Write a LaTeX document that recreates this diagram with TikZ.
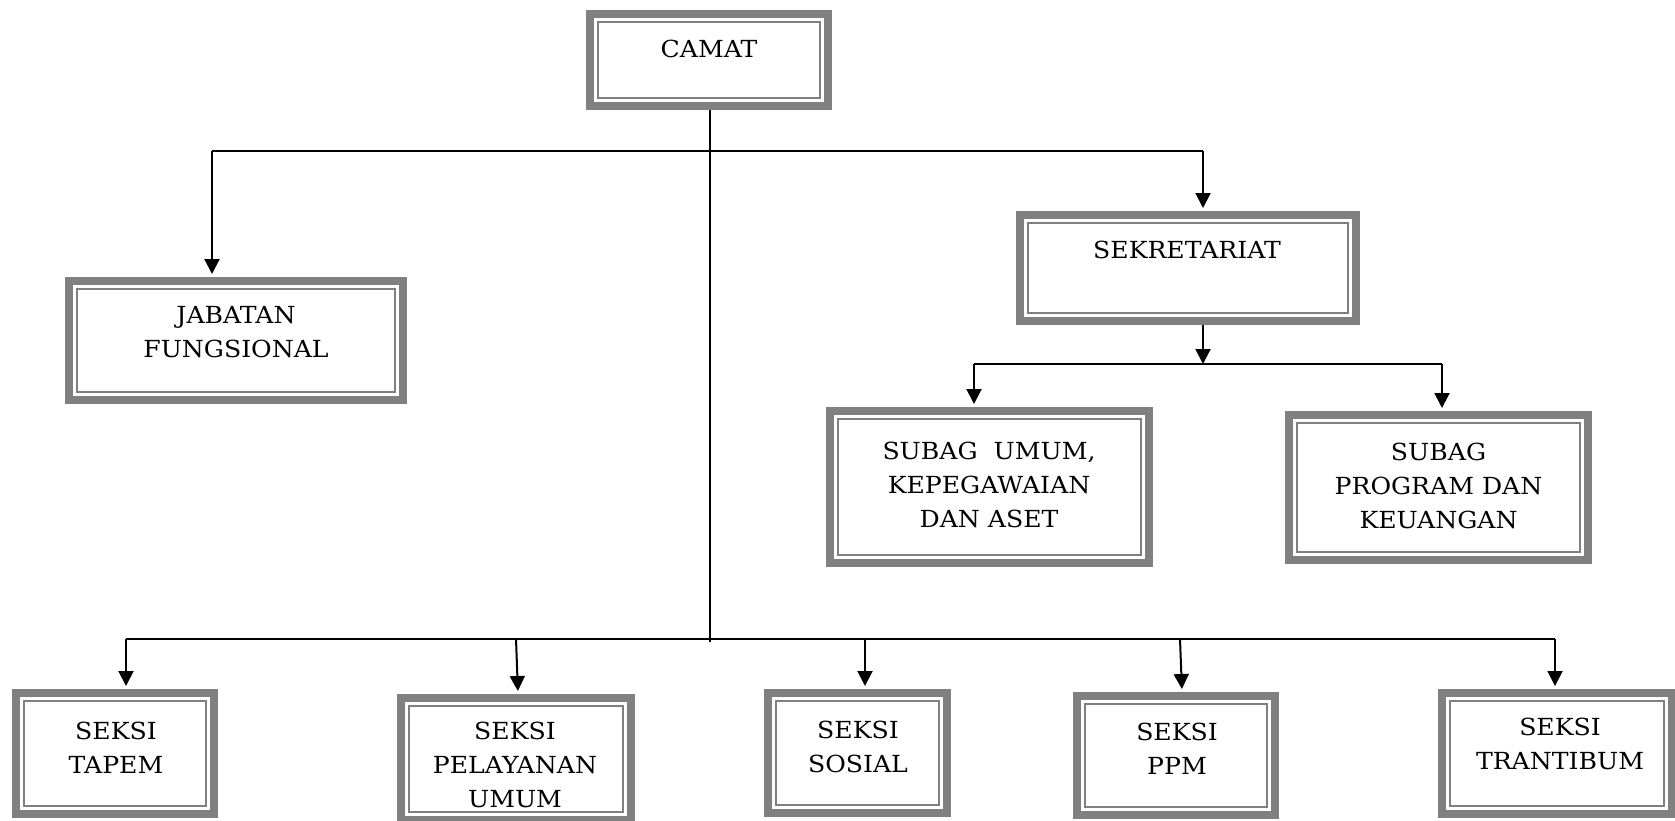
\documentclass[tikz,border=0pt]{standalone}
\usepackage{fontspec}
\setmainfont{DejaVu Serif}[FakeStretch=1.07]
\usetikzlibrary{arrows.meta}
\definecolor{boxgray}{RGB}{128,128,128}
\begin{document}
\begin{tikzpicture}[x=1pt,y=-1pt,
  box/.style={draw=boxgray, line width=8pt, fill=white, inner sep=0pt,
    path picture={\draw[boxgray, line width=2pt]
      ([xshift=8pt,yshift=-8pt]path picture bounding box.north west) rectangle
      ([xshift=-8pt,yshift=8pt]path picture bounding box.south east);}},
  lbl/.style={font=\fontsize{23.5}{34}\selectfont, align=center, inner sep=0pt},
  conn/.style={line width=2pt, black},
  arr/.style={conn, -{Triangle[width=15pt,length=15pt]}, shorten >=3pt}]
\useasboundingbox (0,0) rectangle (1675,820);
% boxes
\node[box, minimum width=238pt, minimum height=92pt] (camat) at (709,60) {};
\node[box, minimum width=334pt, minimum height=119pt] (jab) at (236,340.5) {};
\node[box, minimum width=336pt, minimum height=106pt] (sek) at (1188,268) {};
\node[box, minimum width=319pt, minimum height=152pt] (sum) at (989.5,487) {};
\node[box, minimum width=299pt, minimum height=145pt] (spk) at (1438.5,487.5) {};
\node[box, minimum width=198pt, minimum height=121pt] (tap) at (115,753.5) {};
\node[box, minimum width=230pt, minimum height=122pt] (pel) at (516,759) {};
\node[box, minimum width=179pt, minimum height=120pt] (sos) at (857.5,753) {};
\node[box, minimum width=198pt, minimum height=119pt] (ppm) at (1176,755.5) {};
\node[box, minimum width=230pt, minimum height=121pt] (tra) at (1557,753.5) {};
% labels
\node[lbl] (tcamat) at (709,49) {CAMAT};
\node[lbl] (tjab) at (236,332) {JABATAN\\FUNGSIONAL};
\node[lbl] (tsek) at (1187,250) {SEKRETARIAT};
\node[lbl] (tsum) at (989,485) {SUBAG\ \ UMUM,\\KEPEGAWAIAN\\DAN ASET};
\node[lbl] (tspk) at (1438.5,486) {SUBAG\\PROGRAM DAN\\KEUANGAN};
\node[lbl] (ttap) at (116,748) {SEKSI\\TAPEM};
\node[lbl] (tpel) at (515,765) {SEKSI\\PELAYANAN\\UMUM};
\node[lbl] (tsos) at (858,747) {SEKSI\\SOSIAL};
\node[lbl] (tppm) at (1177,749) {SEKSI\\PPM};
\node[lbl] (ttra) at (1560,744) {SEKSI\\TRANTIBUM};
% connector points
\coordinate (cbot) at (710,642);
\coordinate (tl) at (212,151);
\coordinate (tr) at (1203,151);
\coordinate (sekb) at (1203,325);
\coordinate (mid) at (1203,364);
\coordinate (ml) at (974,364);
\coordinate (mr) at (1442,364);
\coordinate (bl) at (126,639);
\coordinate (b2) at (516,639);
\coordinate (b3) at (865,639);
\coordinate (b4) at (1180,639);
\coordinate (br) at (1555,639);
% connectors
\draw[conn] (camat.south -| cbot) -- (cbot);
\draw[conn] (tl) -- (tr);
\draw[arr] (tl) -- (tl |- jab.north);
\draw[arr] (tr) -- (tr |- sek.north);
\draw[arr, shorten >=0pt] (sekb) -- (mid);
\draw[conn] (ml) -- (mr);
\draw[arr] (ml) -- (ml |- sum.north);
\draw[arr] (mr) -- (mr |- spk.north);
\draw[conn, line width=1.6pt] (bl) -- (br);
\draw[arr] (bl) -- (bl |- tap.north);
\draw[arr] (b2) -- ([xshift=2pt]b2 |- pel.north);
\draw[arr] (b3) -- (b3 |- sos.north);
\draw[arr] (b4) -- ([xshift=2pt]b4 |- ppm.north);
\draw[arr] (br) -- (br |- tra.north);
\end{tikzpicture}
\end{document}
